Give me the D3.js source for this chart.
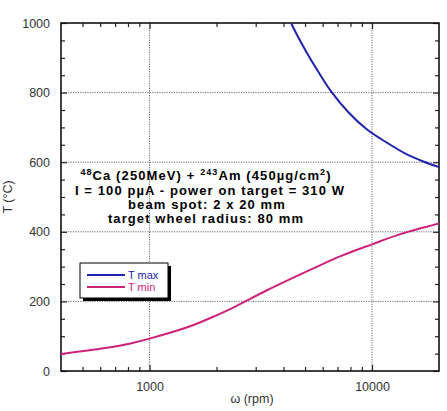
<!DOCTYPE html>
<html><head><meta charset="utf-8">
<script src="https://cdn.jsdelivr.net/npm/d3@7"></script>
<style>body{margin:0;background:#fff}svg{display:block}</style>
</head><body>
<svg id="c" width="447" height="411"></svg>
<script>
// ---- data ----
const tmaxRpm = [4000, 4330, 5100, 5800, 6520, 7870, 9530, 11740, 14200, 17000, 20000];
const tmaxT   = [1060, 1000, 914, 855, 805, 742, 693, 655, 624, 602, 586];
const tminRpm = [400, 630, 830, 1000, 1500, 2000, 2430, 3370, 5670, 7230, 10000, 13500, 20000];
const tminT   = [49, 66, 80, 93, 127, 160, 185, 232, 300, 330, 364, 394, 424];
const xMajorTicks = [1000, 10000];
const xMinorTicks = [500, 600, 700, 800, 900, 2000, 3000, 4000, 5000, 6000, 7000, 8000, 9000];
const yMajorTicks = [0, 200, 400, 600, 800, 1000];
const yMinorTicks = [50,100,150,250,300,350,450,500,550,650,700,750,850,900,950];
const seriesNames = ["T max", "T min"];
const colors = ["#2222aa", "#cc2277"];

const L = 61, R = 439, T = 23, B = 371;
const svg = d3.select("#c");
const x = d3.scaleLog().domain([400, 20000]).range([L, R]);
const y = d3.scaleLinear().domain([0, 1000]).range([B, T]);

svg.append("defs").append("clipPath").attr("id","clip")
  .append("rect").attr("x",L).attr("y",T).attr("width",R-L).attr("height",B-T);

// grid
const grid = svg.append("g").attr("stroke","#445").attr("stroke-width",0.8).attr("stroke-dasharray","1.2,1.2");
yMajorTicks.filter(v=>v>0&&v<1000).forEach(v=>grid.append("line").attr("x1",L).attr("x2",R).attr("y1",y(v)).attr("y2",y(v)));
xMajorTicks.forEach(v=>grid.append("line").attr("y1",T).attr("y2",B).attr("x1",x(v)).attr("x2",x(v)));

// axes with inward ticks
function addAxis(axisGen, transform, major, minor, len, lenMinor){
  const g = svg.append("g").attr("transform", transform);
  g.call(axisGen.tickValues(major).tickSizeInner(len).tickSizeOuter(0).tickFormat(d3.format("d")));
  g.select(".domain").remove();
  g.selectAll(".tick line").attr("stroke","#222").attr("stroke-width",1.2);
  const g2 = svg.append("g").attr("transform", transform);
  g2.call(axisGen.tickValues(minor).tickSizeInner(lenMinor).tickFormat(""));
  g2.select(".domain").remove();
  g2.selectAll(".tick line").attr("stroke","#222").attr("stroke-width",1.2);
  return g;
}
const gx = addAxis(d3.axisBottom(x), `translate(0,${B})`, xMajorTicks, xMinorTicks, -6, -4);
gx.selectAll(".tick text").attr("dy", "1.35em");
addAxis(d3.axisTop(x), `translate(0,${T})`, xMajorTicks, xMinorTicks, -6, -4).selectAll(".tick text").remove();
const gy = addAxis(d3.axisLeft(y), `translate(${L},0)`, yMajorTicks, yMinorTicks, -6, -4);
gy.selectAll(".tick text").attr("x", -11);
addAxis(d3.axisRight(y), `translate(${R},0)`, yMajorTicks, yMinorTicks, -6, -4).selectAll(".tick text").remove();

svg.selectAll(".tick text").attr("font-family","Liberation Sans, Arial, sans-serif").attr("font-size","12.5px").attr("fill","#333");

// frame
svg.append("rect").attr("x",L).attr("y",T).attr("width",R-L).attr("height",B-T)
  .attr("fill","none").attr("stroke","#111").attr("stroke-width",1.6);

// curves
const line = d3.line().x(d=>x(d[0])).y(d=>y(d[1])).curve(d3.curveCatmullRom.alpha(0.5));
const plot = svg.append("g").attr("clip-path","url(#clip)");
plot.append("path").datum(tmaxRpm.map((r,i)=>[r,tmaxT[i]])).attr("d",line)
  .attr("fill","none").attr("stroke",colors[0]).attr("stroke-width",2);
plot.append("path").datum(tminRpm.map((r,i)=>[r,tminT[i]])).attr("d",line)
  .attr("fill","none").attr("stroke",colors[1]).attr("stroke-width",2);

// annotation
const font = "Liberation Sans, Arial, Helvetica, sans-serif";
const ann = svg.append("g").attr("font-family",font).attr("font-weight","bold").attr("font-size","13px")
  .attr("letter-spacing","1.1px").attr("fill","#000").attr("text-anchor","middle");
const t1 = ann.append("text").attr("x",206).attr("y",180);
t1.append("tspan").attr("font-size","9px").attr("dy",-5).text("48");
t1.append("tspan").attr("dy",5).text("Ca (250MeV) + ");
t1.append("tspan").attr("font-size","9px").attr("dy",-5).text("243");
t1.append("tspan").attr("dy",5).text("Am (450µg/cm");
t1.append("tspan").attr("font-size","9px").attr("dy",-5).text("2");
t1.append("tspan").attr("dy",5).text(")");
ann.append("text").attr("x",210).attr("y",194.5).text("I = 100 pµA - power on target =  310 W");
ann.append("text").attr("x",207).attr("y",208.5).text("beam spot: 2 x 20 mm");
ann.append("text").attr("x",206).attr("y",223).text("target wheel radius: 80 mm");

// legend
const lg = svg.append("g");
lg.append("rect").attr("x",83).attr("y",266).attr("width",88).attr("height",35).attr("fill","#000");
lg.append("rect").attr("x",80).attr("y",263).attr("width",88).attr("height",35).attr("fill","#fff").attr("stroke","#000").attr("stroke-width",1);
[275, 287].forEach((ly,i)=>{
  lg.append("line").attr("x1",87).attr("x2",125).attr("y1",ly).attr("y2",ly).attr("stroke",colors[i]).attr("stroke-width",2);
  lg.append("text").attr("x",128).attr("y",ly+3.5).attr("font-family",font).attr("font-size","11px").attr("fill",colors[i]).text(seriesNames[i]);
});

// axis labels
svg.append("text").attr("x",252).attr("y",403).attr("text-anchor","middle").attr("font-family",font).attr("font-size","12.5px").attr("fill","#333").text("ω (rpm)");
svg.append("text").attr("transform","translate(12,197) rotate(-90)").attr("text-anchor","middle").attr("font-family",font).attr("font-size","12.5px").attr("fill","#333").text("T (°C)");
</script>
</body></html>
